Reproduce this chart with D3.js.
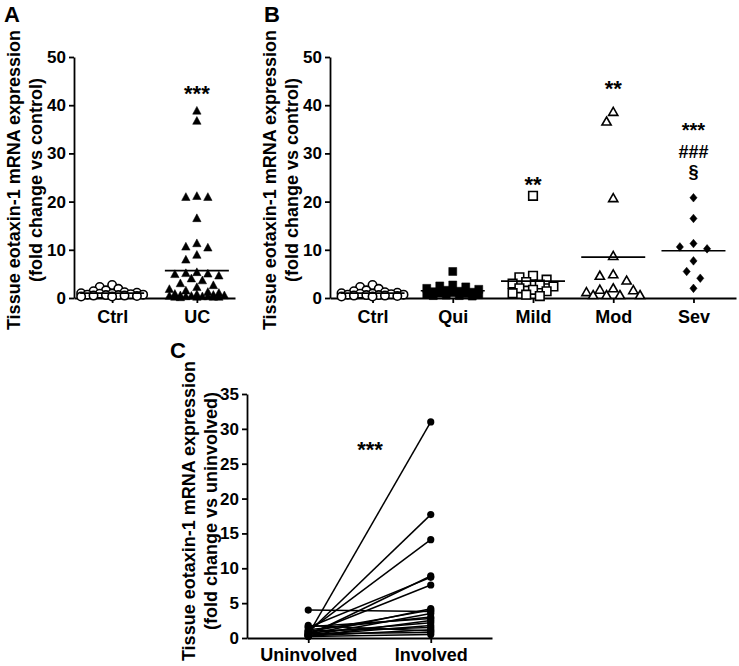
<!DOCTYPE html>
<html>
<head>
<meta charset="utf-8">
<script src="https://cdn.jsdelivr.net/npm/d3@7"></script>
<style>
  body { margin: 0; background: #fff; }
  svg text { font-family: "Liberation Sans", Arial, sans-serif; font-weight: bold; fill: #000; }
  .axis path, .axis line { stroke: #000; stroke-width: 1.8px; }
  .axis text { font-size: 17px; font-family: "Liberation Sans", Arial, sans-serif; font-weight: bold; }
  .xlab text { font-size: 18px; }
</style>
</head>
<body>
<div class="chart"></div>
<script>
// panel A: Ctrl vs UC
var groupsA = ["Ctrl", "UC"];
var ctrlValues = [2.7, 2.3, 1.9, 1.6, 1.4, 1.2, 1.1, 1.0, 0.9, 0.9, 0.8, 0.7, 0.7, 0.6, 0.6, 0.5, 0.5, 0.4, 0.3, 0.3];
var ucValues = [38.8, 36.7, 21.1, 20.9, 20.9, 16.5, 11.3, 10.6, 10.4, 8.9, 7.9,
  5.3, 5.1, 5.0, 4.9, 4.6, 4.0, 3.6, 3.0, 2.6, 2.2, 1.8, 1.5, 1.2, 1.0, 0.8, 0.7, 0.6,
  0.5, 0.5, 0.4, 0.4, 0.3, 0.3, 0.3, 0.2, 0.2, 0.2, 0.2, 0.1];
var meansA = [1.0, 5.7];
var starsA = ["", "***"];

// panel B: by severity
var groupsB = ["Ctrl", "Qui", "Mild", "Mod", "Sev"];
var quiValues = [5.5, 2.7, 2.5, 2.3, 2.0, 1.8, 1.6, 1.4, 1.3, 1.2, 1.1, 1.0, 0.9, 0.8, 0.7, 0.6, 0.5, 0.5, 0.4];
var mildValues = [21.2, 4.6, 4.3, 3.8, 3.3, 3.0, 2.8, 2.4, 2.0, 1.7, 1.4, 1.0, 0.7, 0.4];
var modValues = [38.6, 36.6, 20.7, 8.7, 4.9, 4.6, 3.6, 2.0, 1.7, 1.6, 1.2, 0.6, 0.6, 0.6, 0.6];
var sevValues = [20.8, 16.5, 11.3, 10.6, 10.2, 7.7, 5.5, 4.1, 2.0];
var meansB = [1.0, 1.5, 3.5, 8.5, 9.8];
var marksB = [[], [], ["**"], ["**"], ["***", "###", "§"]];

// panel C: paired samples
var pairLabels = ["Uninvolved", "Involved"];
var uninvolvedValues = [0.5, 0.8, 1.0, 0.4, 1.5, 0.6, 4.0, 1.8, 0.5, 0.3, 1.2, 0.2, 0.7, 0.4, 1.0, 0.3, 0.6, 0.2, 1.6, 0.9];
var involvedValues = [31.0, 17.7, 14.1, 8.9, 8.7, 7.6, 3.8, 1.0, 4.2, 3.5, 3.0, 2.5, 2.2, 1.8, 1.5, 1.2, 0.8, 0.5, 2.8, 4.0];

var ticksAB = [0, 10, 20, 30, 40, 50];
var ticksC = [0, 5, 10, 15, 20, 25, 30, 35];

var svg = d3.select(".chart")
  .append("svg")
  .attr("width", 739)
  .attr("height", 666);

// beeswarm limited to a fixed width, points overlap when it gets crowded
function swarm(values, y, cx, minDist, step, maxOff) {
  var placed = [];
  var offs = [0];
  for (var k = 1; k * step <= maxOff + 0.01; k++) { offs.push(-k * step, k * step); }
  values.forEach(function (v) {
    var py = y(v), best = cx, bestD = -1;
    for (var i = 0; i < offs.length; i++) {
      var px = cx + offs[i];
      var dmin = d3.min(placed, p => Math.hypot(p.x - px, p.y - py));
      if (dmin === undefined || dmin >= minDist) { best = px; break; }
      if (dmin > bestD) { bestD = dmin; best = px; }
    }
    placed.push({ x: best, y: py, v: v });
  });
  return placed;
}

var shapes = {
  circle: "M4.2,0A4.2,4.2 0 1,1 -4.2,0A4.2,4.2 0 1,1 4.2,0Z",
  triFill: "M0,-4.6L4.2,3.2L-4.2,3.2Z",
  triOpen: "M0,-4.6L4.6,3.4L-4.6,3.4Z",
  square: "M-4,-4H4V4H-4Z",
  squareOpen: "M-4.3,-4.3H4.3V4.3H-4.3Z",
  diamond: "M0,-4.3L3.6,0L0,4.3L-3.6,0Z"
};

function drawGroup(g, values, y, cx, style) {
  var pts = swarm(values, y, cx, style.dist, style.step, style.maxOff);
  g.append("g").selectAll("path")
    .data(pts)
    .enter()
    .append("path")
    .attr("d", shapes[style.shape])
    .attr("transform", d => `translate(${d.x},${d.y})`)
    .attr("fill", style.open ? "#fff" : "#000")
    .attr("stroke", "#000")
    .attr("stroke-width", style.open ? 1.6 : 0.5);
}

function yTitle(x1, x2, cy, line2) {
  svg.append("text")
    .attr("transform", `translate(${x1},${cy}) rotate(-90)`)
    .attr("text-anchor", "middle")
    .attr("font-size", "18px")
    .text("Tissue eotaxin-1 mRNA expression");
  svg.append("text")
    .attr("transform", `translate(${x2},${cy}) rotate(-90)`)
    .attr("text-anchor", "middle")
    .attr("font-size", "18px")
    .text(line2);
}

function meanLine(g, x, yv, half) {
  g.append("line")
    .attr("x1", x - half).attr("x2", x + half)
    .attr("y1", yv).attr("y2", yv)
    .attr("stroke", "#000")
    .attr("stroke-width", 1.7);
}

function mark(x, y, size, txt) {
  svg.append("text")
    .attr("x", x).attr("y", y)
    .attr("text-anchor", "middle")
    .attr("font-size", size + "px")
    .text(txt);
}

// ---------- panel A ----------
var yA = d3.scaleLinear().domain([0, 50]).range([298, 57]);
var xA = d3.scalePoint().domain(groupsA).range([74, 235]).padding(0.45);

svg.append("g").attr("class", "axis")
  .attr("transform", "translate(74,0)")
  .call(d3.axisLeft(yA).tickValues(ticksAB).tickSize(5).tickSizeOuter(0).tickPadding(3));
svg.append("g").attr("class", "axis xlab")
  .attr("transform", "translate(0,298)")
  .call(d3.axisBottom(xA).tickSize(5).tickSizeOuter(0).tickPadding(7));

var gA = svg.append("g");
drawGroup(gA, ctrlValues, yA, xA("Ctrl"), { shape: "circle", open: true, dist: 7, step: 6.2, maxOff: 31 });
drawGroup(gA, ucValues, yA, xA("UC"), { shape: "triFill", open: false, dist: 8.5, step: 5.5, maxOff: 30 });
groupsA.forEach(function (g, i) { meanLine(gA, xA(g), yA(meansA[i]), 32); });

mark(xA("UC"), 100.5, 22, starsA[1]);

yTitle(20, 42, 180, "(fold change vs control)");
svg.append("text").attr("x", 4).attr("y", 22).attr("font-size", "22px").text("A");

// ---------- panel B ----------
var yB = d3.scaleLinear().domain([0, 50]).range([298, 57]);
var xB = d3.scalePoint().domain(groupsB).range([330, 736]).padding(0.53);

svg.append("g").attr("class", "axis")
  .attr("transform", "translate(330,0)")
  .call(d3.axisLeft(yB).tickValues(ticksAB).tickSize(5).tickSizeOuter(0).tickPadding(3));
svg.append("g").attr("class", "axis xlab")
  .attr("transform", "translate(0,298)")
  .call(d3.axisBottom(xB).tickSize(5).tickSizeOuter(0).tickPadding(7));

var gB = svg.append("g");
drawGroup(gB, ctrlValues, yB, xB("Ctrl"), { shape: "circle", open: true, dist: 7, step: 6.2, maxOff: 31 });
drawGroup(gB, quiValues, yB, xB("Qui"), { shape: "square", open: false, dist: 8, step: 6.5, maxOff: 30 });
drawGroup(gB, mildValues, yB, xB("Mild"), { shape: "squareOpen", open: true, dist: 9.5, step: 6.8, maxOff: 27 });
drawGroup(gB, modValues, yB, xB("Mod"), { shape: "triOpen", open: true, dist: 10, step: 6.7, maxOff: 27 });
drawGroup(gB, sevValues, yB, xB("Sev"), { shape: "diamond", open: false, dist: 12, step: 6.8, maxOff: 27 });
groupsB.forEach(function (g, i) { meanLine(gB, xB(g), yB(meansB[i]), 32); });

// significance marks above groups (baselines and sizes)
var markPos = { Mild: [[191.5, 22]], Mod: [[95.5, 22]], Sev: [[137, 20], [157.5, 18], [178, 18]] };
groupsB.forEach(function (g, i) {
  marksB[i].forEach(function (m, j) {
    mark(xB(g), markPos[g][j][0], markPos[g][j][1], m);
  });
});

yTitle(276, 298, 180, "(fold change vs control)");
svg.append("text").attr("x", 264).attr("y", 22).attr("font-size", "22px").text("B");

// ---------- panel C ----------
var yC = d3.scaleLinear().domain([0, 35]).range([638, 394]);
var xC = d3.scalePoint().domain(pairLabels).range([247, 492]).padding(0.5);

svg.append("g").attr("class", "axis")
  .attr("transform", "translate(247,0)")
  .call(d3.axisLeft(yC).tickValues(ticksC).tickSize(5).tickSizeOuter(0).tickPadding(3));
svg.append("g").attr("class", "axis xlab")
  .attr("transform", "translate(0,638)")
  .call(d3.axisBottom(xC).tickSize(5).tickSizeOuter(0).tickPadding(5));

var pairs = uninvolvedValues.map((u, i) => ({ u: u, v: involvedValues[i] }));
var gC = svg.append("g");
gC.selectAll("line.pair")
  .data(pairs)
  .enter()
  .append("line")
  .attr("class", "pair")
  .attr("x1", xC("Uninvolved")).attr("y1", d => yC(d.u))
  .attr("x2", xC("Involved")).attr("y2", d => yC(d.v))
  .attr("stroke", "#000")
  .attr("stroke-width", 1.5);
gC.selectAll("circle.u")
  .data(pairs)
  .enter()
  .append("circle")
  .attr("cx", xC("Uninvolved")).attr("cy", d => yC(d.u))
  .attr("r", 3.6);
gC.selectAll("circle.v")
  .data(pairs)
  .enter()
  .append("circle")
  .attr("cx", xC("Involved")).attr("cy", d => yC(d.v))
  .attr("r", 3.6);

mark(370, 457, 22, "***");

yTitle(195, 217, 511, "(fold change vs uninvolved)");
svg.append("text").attr("x", 170).attr("y", 358).attr("font-size", "22px").text("C");
</script>
</body>
</html>
